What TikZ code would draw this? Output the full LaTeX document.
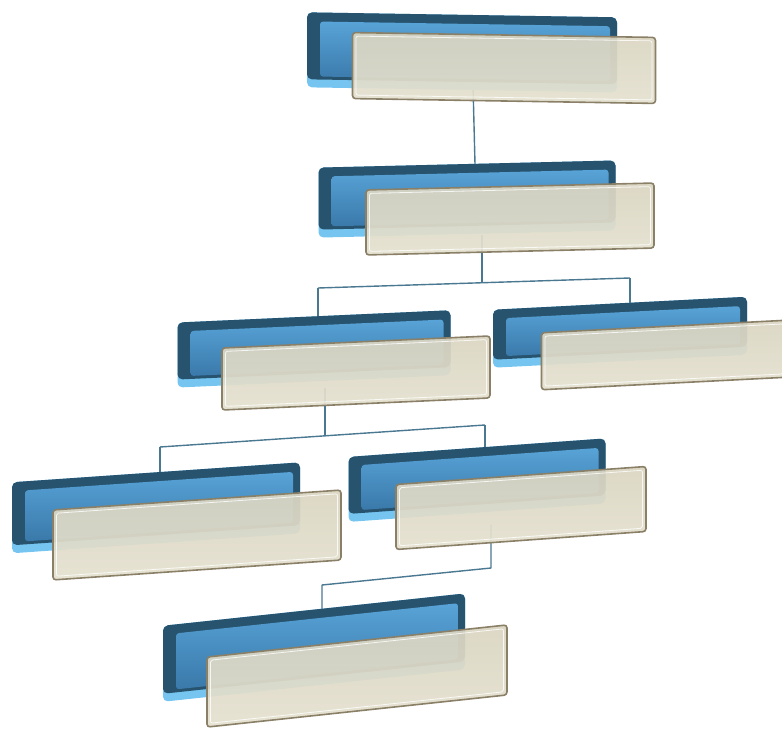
\documentclass[tikz,border=0pt]{standalone}
\usepackage{tikz}
\usetikzlibrary{calc}
\usetikzlibrary{backgrounds}
\definecolor{bluedark}{HTML}{27536E}
\definecolor{bluehigh}{HTML}{58A3D7}
\definecolor{bluelow}{HTML}{3A79AA}
\definecolor{bluelight}{HTML}{75C5F0}
\definecolor{beigetop}{HTML}{DAD5C1}
\definecolor{beigebot}{HTML}{E5E1D0}
\definecolor{beigeedge}{HTML}{8A7F67}
\definecolor{linkblue}{HTML}{4A7891}
\tikzset{
	backbase/.style 2 args={
		rectangle,
		rounded corners=5pt,
		fill=bluelight,
		inner sep=0pt, outer sep=0pt,
		minimum width=#1,
		minimum height=#2},
	backdark/.style 2 args={
		rectangle,
		rounded corners=5pt,
		fill=bluedark,
		inner sep=0pt, outer sep=0pt,
		minimum width=#1,
		minimum height=#2-8,
		yshift=4},
	backface/.style 2 args={
		rectangle,
		rounded corners=3pt,
		top color=bluehigh, bottom color=bluelow,
		inner sep=0pt, outer sep=0pt,
		minimum width=#1-20,
		minimum height=#2-20,
		xshift=3, yshift=1},
	front/.style 2 args={
		rectangle,
		rounded corners=3pt,
		draw=beigeedge, line width=1.6pt,
		top color=beigetop, bottom color=beigebot,
		fill opacity=.93,
		inner sep=0pt, outer sep=0pt,
		minimum width=#1,
		minimum height=#2},
	shine/.style 2 args={
		rectangle,
		rounded corners=2pt,
		draw=white, line width=.8pt, draw opacity=.8,
		inner sep=0pt, outer sep=0pt,
		minimum width=#1-7,
		minimum height=#2-7},
	link/.style={draw=linkblue, line width=1.4pt, line join=round},
}
\begin{document}
\begin{tikzpicture}[x=1pt, y=-1pt]
	\useasboundingbox (0,0) rectangle (782,730);
	% top
	\begin{scope}[shift={(504,68)}, yslant=-.016, transform shape]
		\node[backbase={310}{75}] (a-base) at (-42,-15) {};
		\node[backdark={310}{75}] (a-back) at (-42,-15) {};
		\node[backface={310}{75}] (a-face) at (-42,-15) {};
		\node[front={303}{66}] (a) at (0,0) {};
		\node[shine={303}{66}] (a-shine) at (0,0) {};
	\end{scope}
	\begin{scope}[shift={(510,219)}, yslant=.024, transform shape]
		\node[backbase={297}{70}] (b-base) at (-43,-21) {};
		\node[backdark={297}{70}] (b-back) at (-43,-21) {};
		\node[backface={297}{70}] (b-face) at (-43,-21) {};
		\node[front={288}{65}] (b) at (0,0) {};
		\node[shine={288}{65}] (b-shine) at (0,0) {};
	\end{scope}
	\begin{scope}[shift={(356,373)}, yslant=.045, transform shape]
		\node[backbase={273}{65}] (c-base) at (-42,-26) {};
		\node[backdark={273}{65}] (c-back) at (-42,-26) {};
		\node[backface={273}{65}] (c-face) at (-42,-26) {};
		\node[front={268}{62}] (c) at (0,0) {};
		\node[shine={268}{62}] (c-shine) at (0,0) {};
	\end{scope}
	\begin{scope}[shift={(664,355)}, yslant=.051, transform shape]
		\node[backbase={254}{58}] (d-base) at (-44,-25) {};
		\node[backdark={254}{58}] (d-back) at (-44,-25) {};
		\node[backface={254}{58}] (d-face) at (-44,-25) {};
		\node[front={245}{57}] (d) at (0,0) {};
		\node[shine={245}{57}] (d-shine) at (0,0) {};
	\end{scope}
	\begin{scope}[shift={(197,535)}, yslant=.069, transform shape]
		\node[backbase={288}{71}] (e-base) at (-41,-30) {};
		\node[backdark={288}{71}] (e-back) at (-41,-30) {};
		\node[backface={288}{71}] (e-face) at (-41,-30) {};
		\node[front={288}{70}] (e) at (0,0) {};
		\node[shine={288}{70}] (e-shine) at (0,0) {};
	\end{scope}
	\begin{scope}[shift={(521,508)}, yslant=.072, transform shape]
		\node[backbase={257}{65}] (f-base) at (-44,-31) {};
		\node[backdark={257}{65}] (f-back) at (-44,-31) {};
		\node[backface={257}{65}] (f-face) at (-44,-31) {};
		\node[front={250}{65}] (f) at (0,0) {};
		\node[shine={250}{65}] (f-shine) at (0,0) {};
	\end{scope}
	\begin{scope}[shift={(357,676)}, yslant=.107, transform shape]
		\node[backbase={302}{76}] (g-base) at (-43,-33) {};
		\node[backdark={302}{76}] (g-back) at (-43,-33) {};
		\node[backface={302}{76}] (g-face) at (-43,-33) {};
		\node[front={300}{70}] (g) at (0,0) {};
		\node[shine={300}{70}] (g-shine) at (0,0) {};
	\end{scope}
	% connectors
	\coordinate (bc) at (482,283);
	\coordinate (bc-l) at (318,288);
	\coordinate (bc-r) at (630,278);
	\coordinate (ce) at (325,436);
	\coordinate (ce-l) at (160,447);
	\coordinate (ce-r) at (485,425);
	\coordinate (fg) at (491,568);
	\coordinate (fg-l) at (322,585);
	\begin{scope}[on background layer]
		\draw[link] ($(a.south)+(-31,-16)$) -- ($(b-back.north)+(8,0)$);
		\draw[link] ($(bc |- b.south)+(0,-16)$) -- (bc);
		\draw[link] (bc-l) -- (bc-r);
		\draw[link] (bc-l) -- (bc-l |- c-back.north);
		\draw[link] (bc-r) -- (bc-r |- d-back.north);
		\draw[link] ($(ce |- c.south)+(0,-16)$) -- (ce);
		\draw[link] (ce-l) -- (ce-r);
		\draw[link] (ce-l) -- (ce-l |- e-back.north);
		\draw[link] (ce-r) -- (ce-r |- f-back.north);
		\draw[link] ($(fg |- f.south)+(0,-16)$) -- (fg) -- (fg-l) -- (fg-l |- g-back.north);
	\end{scope}
\end{tikzpicture}
\end{document}
